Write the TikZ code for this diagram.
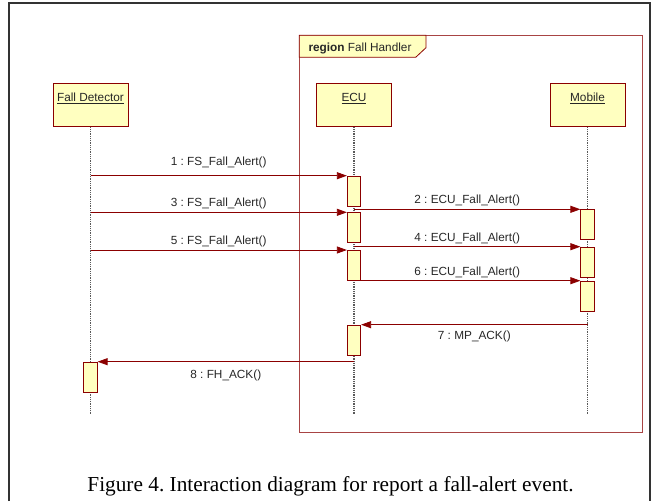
\documentclass[tikz,border=0pt]{standalone}
\usepackage{fontspec}
\setmainfont{Liberation Serif}
\newfontfamily\umlfont{Liberation Sans}
\usetikzlibrary{arrows.meta}
\definecolor{umlred}{HTML}{8B0000}
\definecolor{framered}{HTML}{A84444}
\definecolor{umlfill}{HTML}{FFFFC0}
\frenchspacing

\begin{document}
\begin{tikzpicture}[x=1pt,y=-1pt,font=\umlfont\fontsize{11.8}{13}\selectfont,
	head/.style={draw=umlred,fill=umlfill,line width=0.8pt,anchor=north,minimum width=75pt,inner xsep=0pt,inner ysep=0pt,text height=17.5pt,text depth=25.5pt},
	act/.style={draw=umlred,fill=umlfill,line width=0.8pt,anchor=north,minimum width=13.4pt,minimum height=30pt,inner sep=0pt},
	life/.style={gray!70!black,dash pattern=on 1pt off 0.8pt,line width=1.1pt},
	msg/.style={umlred,line width=0.8pt,-{Triangle[length=10pt,width=7pt]}},
	call/.style={midway,anchor=base,text=black!85,yshift=#1},call/.default=5.5pt,
	ret/.style={midway,anchor=base,text=black!85,yshift=#1},ret/.default=-15pt]
		\useasboundingbox(0,0)rectangle(653,501);
		\draw[line width=1.5pt,black!80](9,501)--(9,3)--(650,3)--(650,501);
		% region frame with its name tab
		\draw[framered,line width=0.9pt](299.3,35.3)rectangle(642.3,432.3);
		\draw[umlred,fill=umlfill,line width=0.8pt](299.3,35.3)--(426,35.3)--(426,47.7)--(415.7,57.3)--(299.3,57.3)--cycle;
		\node[anchor=base west,text=black!85](tab)at(305,51){\textbf{region} Fall Handler};
		% lifelines
		\node[head,text=black!85](fd)at(90.5,83.3){\underline{Fall Detector}};
		\node[head,text=black!85](ecu)at(354,83.3){\underline{ECU}};
		\node[head,text=black!85](mob)at(587.5,83.3){\underline{Mobile}};
		\coordinate(fd end)at(90.5,414);
		\coordinate(ecu end)at(354,414);
		\coordinate(mob end)at(587.5,414);
		\draw[life](fd.south)--(fd end);
		\draw[life](ecu.south)--(ecu end);
		\draw[life](mob.south)--(mob end);
		% activations
		\node[act](e1)at(354,175.7){};
		\node[act](e2)at(354,212.3){};
		\node[act](e3)at(354,250){};
		\node[act](e4)at(354,324.7){};
		\node[act](m1)at(587.5,209.3){};
		\node[act](m2)at(587.5,246.7){};
		\node[act](m3)at(587.5,280.7){};
		\node[act](f1)at(90.5,361.7){};
		% messages
		\draw[msg](fd.south|-e1.north)--(e1.north west)node[call=10pt]{1 : FS\_Fall\_Alert()};
		\draw[msg](e1.south|-m1.north)--(m1.north west)node[call]{2 : ECU\_Fall\_Alert()};
		\draw[msg](fd.south|-e2.north)--(e2.north west)node[call]{3 : FS\_Fall\_Alert()};
		\draw[msg](e2.south|-m2.north)--(m2.north west)node[call]{4 : ECU\_Fall\_Alert()};
		\draw[msg](fd.south|-e3.north)--(e3.north west)node[call]{5 : FS\_Fall\_Alert()};
		\draw[msg](e3.south|-m3.north)--(m3.north west)node[call]{6 : ECU\_Fall\_Alert()};
		\draw[msg](mob.south|-e4.north)--(e4.north east)node[ret]{7 : MP\_ACK()};
		\draw[msg](ecu.south|-f1.north)--(f1.north east)node[ret=-17pt]{8 : FH\_ACK()};
		\node[font=\rmfamily\fontsize{21.3}{24}\selectfont,anchor=base](caption)at(330.5,491){Figure 4. Interaction diagram for report a fall-alert event.};
		\end{tikzpicture}
\end{document}
